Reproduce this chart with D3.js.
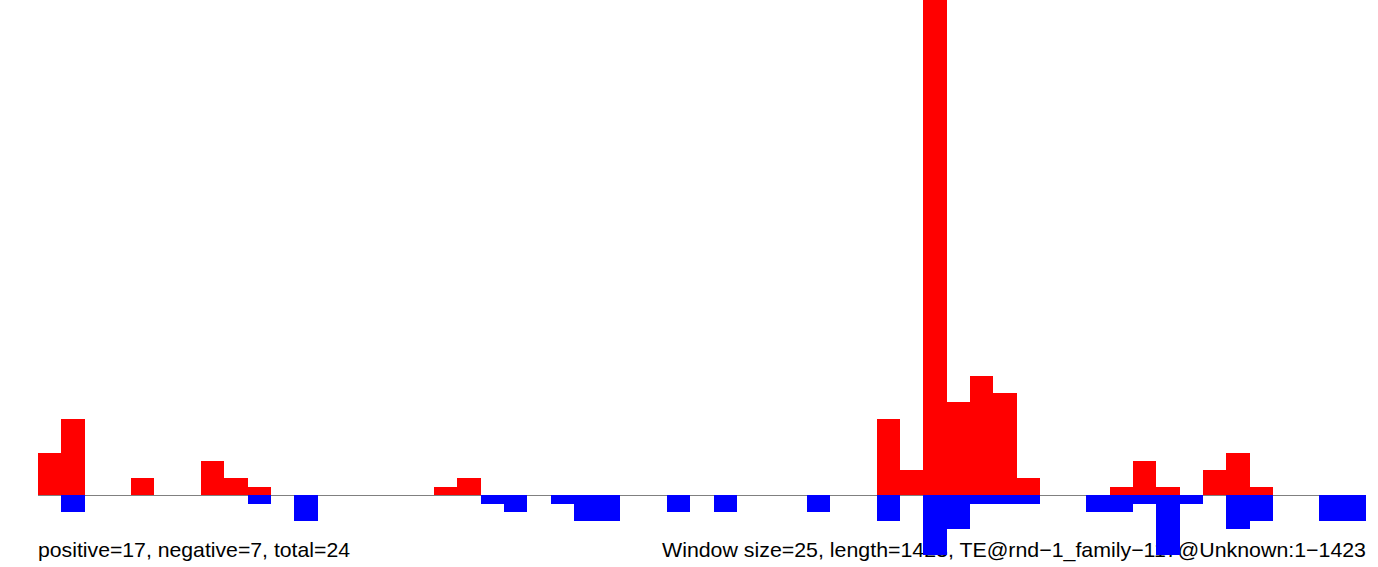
<!DOCTYPE html>
<html><head><meta charset="utf-8">
<script src="https://cdn.jsdelivr.net/npm/d3@7"></script>
<style>html,body{margin:0;padding:0;background:#fff;overflow:hidden}svg{display:block}</style>
</head><body>
<svg id="c" width="1378" height="567"></svg>
<script>
// Window index (0..56) for a 1423 bp sequence, window size 25
const windowSize = 25;
const seqLength = 1423;
const nBins = 57;
// positive counts per window (index, value)
const positiveBins = [0,1,4,7,8,9,17,18,36,37,38,39,40,41,42,46,47,48,50,51,52];
const positiveVals = [5,9,2,4,2,1,1,2,9,3,59,11,14,12,2,1,4,1,3,5,1];
// negative counts per window (index, value)
const negativeBins = [1,9,11,19,20,22,23,24,27,29,33,36,38,39,40,41,42,45,46,47,48,49,51,52,55,56];
const negativeVals = [2,1,3,1,2,1,3,3,2,2,2,3,7,4,1,1,1,2,2,1,7,1,4,3,3,3];
const leftLabel = "positive=17, negative=7, total=24";
const rightLabel = "Window size=25, length=1423, TE@rnd\u22121_family\u2212117@Unknown:1\u22121423";

const svg = d3.select("#c");
const x = d3.scaleLinear().domain([0, nBins]).range([38, 1366]);
const y = d3.scaleLinear().domain([-7, 58.29]).range([555, 0]);

// labels (drawn beneath bars)
const font = "'Liberation Sans', Arial, Helvetica, sans-serif";
const l1 = svg.append("text").attr("x", 38).attr("y", 557).attr("font-family", font)
  .attr("font-size", 21).attr("fill", "#000").text(leftLabel);
const l2 = svg.append("text").attr("x", 1366).attr("y", 557).attr("font-family", font)
  .attr("font-size", 21).attr("fill", "#000").attr("text-anchor", "end").text(rightLabel);
// fit to measured label widths
l1.attr("textLength", 312).attr("lengthAdjust", "spacingAndGlyphs");
l2.attr("textLength", 704).attr("lengthAdjust", "spacingAndGlyphs");

// baseline
svg.append("line").attr("x1", x(0)).attr("x2", x(nBins)).attr("y1", y(0)).attr("y2", y(0))
  .attr("stroke", "#808080").attr("stroke-width", 1.2);

const pos = positiveBins.map((b, i) => ({b, v: positiveVals[i]}));
const neg = negativeBins.map((b, i) => ({b, v: negativeVals[i]}));

svg.append("g").selectAll("rect").data(pos).join("rect")
  .attr("x", d => x(d.b)).attr("width", d => x(d.b + 1) - x(d.b))
  .attr("y", d => y(d.v)).attr("height", d => y(0) - y(d.v))
  .attr("fill", "#ff0000").attr("shape-rendering", "crispEdges");
svg.append("g").selectAll("rect").data(neg).join("rect")
  .attr("x", d => x(d.b)).attr("width", d => x(d.b + 1) - x(d.b))
  .attr("y", y(0)).attr("height", d => y(-d.v) - y(0))
  .attr("fill", "#0000ff").attr("shape-rendering", "crispEdges");
</script>
</body></html>
